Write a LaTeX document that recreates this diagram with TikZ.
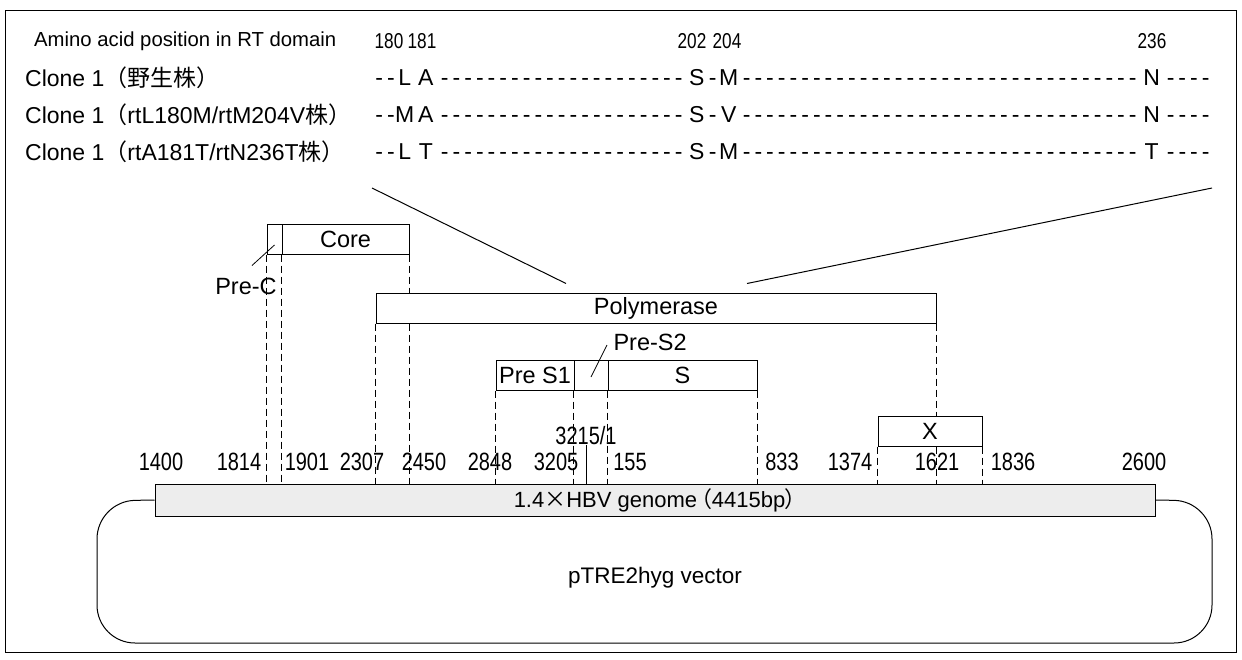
\documentclass[tikz,border=0pt]{standalone}
\usepackage{fontspec}
\setmainfont{Liberation Sans}
\newfontfamily\cjk{Noto Sans CJK JP}
\newfontfamily\cjkp{Noto Sans CJK JP}[RawFeature=+palt]
\newfontfamily\numfont{Liberation Sans}[FakeStretch=0.8]
\usetikzlibrary{calc}

% one hyphen slot of the aligned sequences, and a fixed-width residue
\newcommand{\hy}[1]{\hbox to \dimexpr 11.7pt*#1+0.2pt\relax{\cleaders\hbox to 11.7pt{\hss-\hss}\hfill}}
\newcommand{\res}[2]{\makebox[#1pt]{#2}}

\tikzset{
  gene/.style={draw, line width=1pt, fill=white, inner sep=0pt, minimum height=30pt,
    font=\fontsize{23.5}{26}\selectfont},
  guide/.style={line width=0.8pt, dash pattern=on 7pt off 4pt},
  lbl/.style={inner sep=0pt, font=\fontsize{23}{26}\selectfont},
  ntlabel/.style={inner sep=0pt, font=\numfont\fontsize{25}{28}\selectfont},
  aalabel/.style={inner sep=0pt, font=\numfont\fontsize{21.5}{24}\selectfont},
}

\begin{document}
\begin{tikzpicture}[x=1pt, y=-1pt, line join=miter]
  \useasboundingbox (0,0) rectangle (1242,659);
  \draw[line width=0.8pt] (5,10) rectangle (1236,652);

  % Sequence alignment in the RT domain
  \node[lbl, anchor=west, font=\fontsize{20.3}{24}\selectfont] (title) at (34,41)
    {Amino acid position in RT domain};
  \node[aalabel] (p180) at (389,41) {180};
  \node[aalabel] (p181) at (422,41) {181};
  \node[aalabel] (p202) at (692,41) {202};
  \node[aalabel] (p204) at (727,41) {204};
  \node[aalabel] (p236) at (1152,41) {236};

  \node[lbl, anchor=west] (wt) at (25,78) {Clone 1{\cjk （野生株）}};
  \node[lbl, anchor=west] (mutA) at (25,115) {Clone 1{\cjk （}rtL180M/rtM204V{\cjk 株）}};
  \node[lbl, anchor=west] (mutB) at (25,152) {Clone 1{\cjk （}rtA181T/rtN236T{\cjk 株）}};

  \node[lbl, anchor=west] (seqwt) at (373,78)
    {\hy{2}\res{16}{L}\res{26}{A}\hy{21}\res{24}{S}\res{8}{-}\res{24}{M}\hy{34}\res{26}{N}\hy{4}};
  \node[lbl, anchor=west] (seqA) at (373,115)
    {\hy{2}\res{16}{M}\res{26}{A}\hy{21}\res{24}{S}\res{8}{-}\res{24}{V}\hy{34}\res{26}{N}\hy{4}};
  \node[lbl, anchor=west] (seqB) at (373,152)
    {\hy{2}\res{16}{L}\res{26}{T}\hy{21}\res{24}{S}\res{8}{-}\res{24}{M}\hy{34}\res{26}{T}\hy{4}};

  % Gene map
  \node[gene, minimum width=15pt] (prec) at (274.5,239) {};
  \node[gene, minimum width=127pt] (core) at (345.5,239) {Core};
  \node[gene, minimum width=560pt] (poly) at (656,308) {Polymerase};
  \node[gene, minimum width=78pt] (pres1) at (535,375) {Pre S1};
  \node[gene, minimum width=34pt] (pres2) at (591,375) {};
  \node[gene, minimum width=149pt] (sgene) at (682.5,375) {S};
  \node[gene, minimum width=104pt] (xgene) at (930,431) {X};
  \node[gene, minimum width=1000pt, minimum height=32pt, fill=gray!14,
    font=\fontsize{22}{26}\selectfont] (bar) at (655,500)
    {1.4{\cjk ×}HBV genome\,{\cjkp （}4415bp{\cjkp ）}};

  \node[gene, draw=none, fill=none] (precl) at (246,286) {Pre-C};
  \node[gene, draw=none, fill=none, anchor=west] (pres2l) at (613,342) {Pre-S2};
  \node[ntlabel] (n3215) at (586,436) {3215/1};

  % Zoom lines from the polymerase to the alignment
  \coordinate (zl) at (372,188);
  \coordinate (zr) at (1212,188);
  \draw[line width=1pt] (zl) -- ($(poly.north)+(-90,-9)$);
  \draw[line width=1pt] (zr) -- ($(poly.north)+(91,-9)$);

  % Leaders
  \draw[line width=0.8pt] ($(precl.north)+(6,-5)$) -- ($(prec.center)+(0,6)$);
  \draw[line width=0.8pt] ($(pres2l.west)+(-6,3)$) -- ($(pres2.center)+(0,2)$);
  \draw[line width=0.8pt] (n3215.south) -- (n3215.south |- bar.north);

  % Guides down to the genome
  \draw[guide] (prec.south west) -- (prec.south west |- bar.north);
  \draw[guide] (core.south west) -- (core.south west |- bar.north);
  \draw[guide] (core.south east) -- (core.south east |- poly.north);
  \draw[guide] (core.south east |- poly.south) -- (core.south east |- bar.north);
  \draw[guide] (poly.south west) -- (poly.south west |- bar.north);
  \draw[guide] (poly.south east) -- (poly.south east |- xgene.north);
  \draw[guide] (poly.south east |- xgene.south) -- (poly.south east |- bar.north);
  \draw[guide] (pres1.south west) -- (pres1.south west |- bar.north);
  \draw[guide] (pres2.south west) -- (pres2.south west |- bar.north);
  \draw[guide] (sgene.south west) -- (sgene.south west |- bar.north);
  \draw[guide] (sgene.south east) -- (sgene.south east |- bar.north);
  \draw[guide] (xgene.south west) -- (xgene.south west |- bar.north);
  \draw[guide] (xgene.south east) -- (xgene.south east |- bar.north);

  % Nucleotide positions
  \foreach \x/\t in {161/1400, 239/1814, 307/1901, 362/2307, 424/2450, 490/2848,
      556/3205, 630/155, 782/833, 850/1374, 937/1621, 1013/1836, 1144/2600}
    \node[ntlabel] (n\t) at (\x,462) {\t};

  % Vector backbone
  \draw[line width=1pt, rounded corners=38pt] (bar.west) -- (97,501) -- (97,643)
    -- (1212,643) -- (1212,501) -- (bar.east);
  \node[gene, draw=none, fill=none, font=\fontsize{22.5}{26}\selectfont] (vec) at (655,578)
    {pTRE2hyg vector};
\end{tikzpicture}
\end{document}
